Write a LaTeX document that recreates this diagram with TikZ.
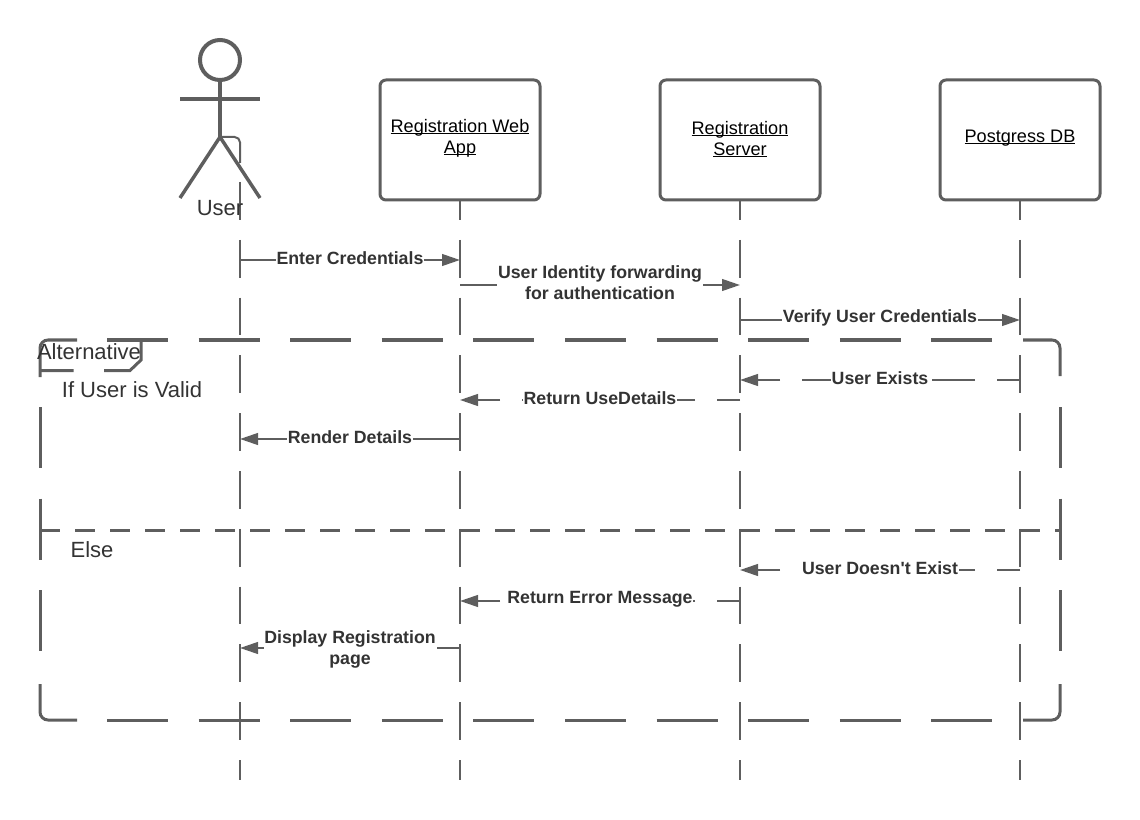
\documentclass[tikz,border=0pt]{standalone}
\usepackage{fontspec}
\setmainfont{Liberation Sans}
\usetikzlibrary{arrows.meta}
\definecolor{linegray}{HTML}{5E5E5E}
\definecolor{textgray}{HTML}{333333}
\newcommand{\ulname}[1]{\setbox0=\hbox{#1}\raisebox{1.1pt}[\ht0][\dp0]{\rlap{\rule[-1.2pt]{\wd0}{0.75pt}}\copy0}}
\tikzset{
 lifebox/.style={draw=linegray,line width=2.25pt,fill=white,rounded corners=4.5pt,
   minimum width=120pt,minimum height=90pt,inner sep=0pt,align=center,
   font=\fontsize{13.6}{15.8}\selectfont,text=black},
 lifeline/.style={draw=linegray,line width=1.5pt,dash pattern=on 28.35pt off 15pt},
 limb/.style={draw=linegray,line width=2.6pt},
 callmsg/.style={draw=linegray,line width=1.5pt,-{Triangle[length=13.5pt,width=8.8pt]}},
 replymsg/.style={callmsg,dash pattern=on 32.25pt off 16.5pt,dash phase=15pt},
 msglabel/.style={midway,fill=white,inner xsep=0.5pt,inner ysep=1pt,yshift=1.6pt,align=center,
   font=\fontsize{13.3}{15.8}\selectfont\bfseries,text=textgray},
 framecorner/.style={draw=linegray,line width=2.25pt,rounded corners=6pt},
 frameside/.style={draw=linegray,line width=2.25pt,dash pattern=on 45.75pt off 22.95pt},
 framesplit/.style={draw=linegray,line width=2.25pt,dash pattern=on 15pt off 11.25pt},
 guardtext/.style={inner sep=0pt,font=\fontsize{16.5}{18}\selectfont,text=textgray},
}
\begin{document}
\begin{tikzpicture}[x=0.75pt,y=-0.75pt]
 \useasboundingbox (0,0) rectangle (1140,820);
 % lifelines
 \coordinate (userline) at (240,182);
 \coordinate (webline) at (460,182);
 \coordinate (serverline) at (740,182);
 \coordinate (dbline) at (1020,182);
 \foreach \lane in {userline,webline,serverline,dbline}
  \draw[lifeline] (\lane) -- (\lane |- 0,780);
 % heads
 \node[lifebox] (web) at (460,140) {\ulname{Registration Web}\\\ulname{App}};
 \node[lifebox] (server) at (740,140) {\ulname{Registration}\\\ulname{Server}};
 \node[lifebox] (db) at (1020,140) {\ulname{Postgress DB}};
 % actor
 \node[draw=linegray,line width=3pt,circle,minimum size=30pt,inner sep=0pt] (userhead) at (220,60) {};
 \coordinate (hip) at (220,137);
 \coordinate (handl) at (180,99);
 \coordinate (handr) at (260,99);
 \coordinate (footl) at (180,198);
 \coordinate (footr) at (260,198);
 \coordinate (kneetab) at (240,163);
 \draw[limb] (userhead.south) -- (hip);
 \draw[limb,line width=3pt] (handl) -- (handr);
 \draw[limb] (footl) -- (hip) -- (footr);
 \draw[draw=linegray,line width=1.5pt,rounded corners=4pt] (hip) -| (kneetab);
 \node[guardtext] (user) at (220,208) {User};
 % frame
 \coordinate (nw) at (40,340);
 \coordinate (ne) at (1060,340);
 \coordinate (se) at (1060,720);
 \coordinate (sw) at (40,720);
 \draw[framecorner] (40,377) -- (nw) -- (77,340);
 \draw[framecorner] (1023,340) -- (ne) -- (1060,376);
 \draw[framecorner] (1060,684) -- (se) -- (1023,720);
 \draw[framecorner] (77,720) -- (sw) -- (40,684);
 \draw[frameside] (107,340) -- (993,340);
 \draw[frameside] (107,720) -- (993,720);
 \draw[frameside] (40,407) -- (40,654);
 \draw[frameside] (1060,407) -- (1060,654);
 \draw[framesplit] (40,530.5) -- (1060,530.5);
 \draw[frameside] (141,340) -- (141,360) -- (130,370.5) -- (40,370.5);
 \node[guardtext] (alttag) at (89,352) {Alternative};
 \node[guardtext] (valid) at (132,390) {If User is Valid};
 \node[guardtext] (other) at (92,550) {Else};
 % messages
 \draw[callmsg] (userline |- 0,260) -- node[msglabel] {Enter Credentials} (webline |- 0,260);
 \draw[callmsg] (webline |- 0,285) -- node[msglabel] {User Identity forwarding\\for authentication} (serverline |- 0,285);
 \draw[callmsg] (serverline |- 0,320) -- node[msglabel] {Verify User Credentials} (dbline |- 0,320);
 \draw[replymsg] (dbline |- 0,380) -- node[msglabel] {User Exists} (serverline |- 0,380);
 \draw[replymsg] (serverline |- 0,400) -- node[msglabel] {Return UseDetails} (webline |- 0,400);
 \draw[callmsg] (webline |- 0,439) -- node[msglabel] {Render Details} (userline |- 0,439);
 \draw[replymsg] (dbline |- 0,570) -- node[msglabel] {User Doesn\textquotesingle t Exist} (serverline |- 0,570);
 \draw[replymsg] (serverline |- 0,601) -- node[msglabel] {Return Error Message} (webline |- 0,601);
 \draw[replymsg] (webline |- 0,648) -- node[msglabel,yshift=-2.5pt] {Display Registration\\page} (userline |- 0,648);
\end{tikzpicture}
\end{document}
